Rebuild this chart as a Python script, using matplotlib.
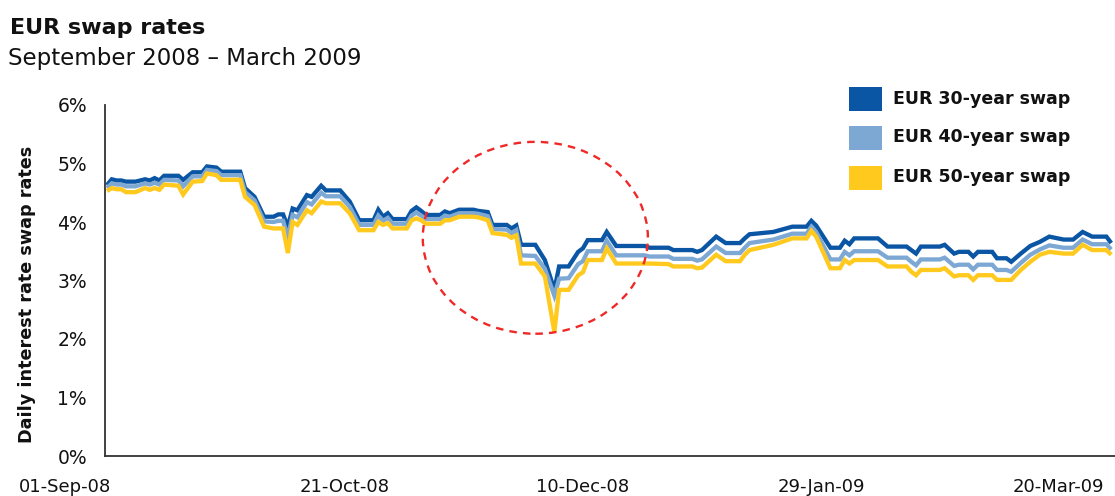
import matplotlib
matplotlib.use("Agg")
import matplotlib.pyplot as plt
import matplotlib.dates as mdates
from matplotlib.patches import Ellipse, Rectangle
from matplotlib.transforms import ScaledTranslation
import numpy as np

# ---------------- data ----------------
dates = [
    "2008-09-01", "2008-09-02", "2008-09-03", "2008-09-04", "2008-09-05", "2008-09-07",
    "2008-09-09", "2008-09-10", "2008-09-11", "2008-09-12", "2008-09-13", "2008-09-16",
    "2008-09-17", "2008-09-19", "2008-09-21", "2008-09-22", "2008-09-24", "2008-09-25",
    "2008-09-29", "2008-09-30", "2008-10-02", "2008-10-04", "2008-10-06", "2008-10-07",
    "2008-10-08", "2008-10-09", "2008-10-10", "2008-10-11", "2008-10-13", "2008-10-14",
    "2008-10-16", "2008-10-17", "2008-10-20", "2008-10-22", "2008-10-24", "2008-10-27",
    "2008-10-28", "2008-10-29", "2008-10-30", "2008-10-31", "2008-11-03", "2008-11-04",
    "2008-11-05", "2008-11-06", "2008-11-07", "2008-11-10", "2008-11-11", "2008-11-12",
    "2008-11-14", "2008-11-17", "2008-11-18", "2008-11-20", "2008-11-21", "2008-11-24",
    "2008-11-25", "2008-11-26", "2008-11-27", "2008-11-30", "2008-12-02", "2008-12-04",
    "2008-12-05", "2008-12-07", "2008-12-09", "2008-12-10", "2008-12-11", "2008-12-14",
    "2008-12-15", "2008-12-17", "2008-12-23", "2008-12-24", "2008-12-28", "2008-12-29",
    "2009-01-02", "2009-01-03", "2009-01-04", "2009-01-07", "2009-01-09", "2009-01-12",
    "2009-01-13", "2009-01-14", "2009-01-19", "2009-01-23", "2009-01-26", "2009-01-27",
    "2009-01-28", "2009-01-31", "2009-02-02", "2009-02-03", "2009-02-04", "2009-02-05",
    "2009-02-10", "2009-02-12", "2009-02-16", "2009-02-17", "2009-02-18", "2009-02-19",
    "2009-02-23", "2009-02-24", "2009-02-26", "2009-02-27", "2009-03-01", "2009-03-02",
    "2009-03-03", "2009-03-06", "2009-03-07", "2009-03-09", "2009-03-10", "2009-03-12",
    "2009-03-14", "2009-03-16", "2009-03-18", "2009-03-21", "2009-03-23", "2009-03-25",
    "2009-03-27", "2009-03-30", "2009-03-31",
]

swap_30y = [
    4.63, 4.73, 4.71, 4.71, 4.69, 4.69, 4.73, 4.71, 4.75, 4.71, 4.79, 4.79,
    4.72, 4.85, 4.85, 4.95, 4.93, 4.86, 4.86, 4.58, 4.43, 4.09, 4.09, 4.13,
    4.13, 3.92, 4.23, 4.20, 4.46, 4.43, 4.62, 4.54, 4.54, 4.35, 4.03, 4.03,
    4.21, 4.09, 4.15, 4.05, 4.05, 4.19, 4.25, 4.19, 4.12, 4.12, 4.18, 4.15,
    4.21, 4.21, 4.19, 4.17, 3.95, 3.95, 3.89, 3.94, 3.61, 3.61, 3.35, 2.84,
    3.24, 3.24, 3.49, 3.55, 3.69, 3.69, 3.83, 3.59, 3.59, 3.56, 3.56, 3.52,
    3.52, 3.49, 3.52, 3.75, 3.64, 3.64, 3.72, 3.79, 3.83, 3.92, 3.92, 4.02,
    3.94, 3.56, 3.56, 3.68, 3.62, 3.72, 3.72, 3.58, 3.58, 3.52, 3.46, 3.58,
    3.58, 3.61, 3.46, 3.49, 3.49, 3.41, 3.49, 3.49, 3.38, 3.38, 3.32, 3.46,
    3.59, 3.66, 3.75, 3.70, 3.70, 3.83, 3.75, 3.75, 3.64,
]

swap_40y = [
    4.58, 4.66, 4.64, 4.64, 4.61, 4.61, 4.66, 4.64, 4.67, 4.64, 4.72, 4.71,
    4.61, 4.78, 4.78, 4.89, 4.87, 4.80, 4.80, 4.51, 4.37, 4.01, 4.00, 4.02,
    4.02, 3.74, 4.12, 4.08, 4.34, 4.30, 4.50, 4.44, 4.44, 4.26, 3.95, 3.95,
    4.11, 4.02, 4.07, 3.97, 3.97, 4.11, 4.16, 4.11, 4.05, 4.05, 4.11, 4.09,
    4.15, 4.15, 4.14, 4.10, 3.88, 3.87, 3.81, 3.86, 3.43, 3.42, 3.20, 2.74,
    3.03, 3.04, 3.28, 3.33, 3.50, 3.50, 3.68, 3.43, 3.43, 3.41, 3.41, 3.37,
    3.37, 3.34, 3.36, 3.58, 3.47, 3.47, 3.56, 3.64, 3.70, 3.80, 3.80, 3.92,
    3.83, 3.36, 3.36, 3.49, 3.43, 3.50, 3.50, 3.39, 3.39, 3.32, 3.26, 3.36,
    3.36, 3.39, 3.25, 3.27, 3.27, 3.19, 3.27, 3.27, 3.18, 3.18, 3.15, 3.30,
    3.44, 3.53, 3.60, 3.56, 3.56, 3.70, 3.62, 3.62, 3.53,
]

swap_50y = [
    4.53, 4.58, 4.56, 4.56, 4.51, 4.51, 4.58, 4.55, 4.58, 4.55, 4.64, 4.62,
    4.47, 4.69, 4.70, 4.83, 4.80, 4.72, 4.72, 4.43, 4.29, 3.92, 3.89, 3.89,
    3.89, 3.47, 4.00, 3.95, 4.20, 4.15, 4.35, 4.32, 4.32, 4.15, 3.86, 3.86,
    4.00, 3.95, 3.98, 3.89, 3.89, 4.03, 4.06, 4.03, 3.97, 3.97, 4.03, 4.03,
    4.09, 4.09, 4.08, 4.03, 3.81, 3.78, 3.73, 3.77, 3.29, 3.29, 3.07, 2.12,
    2.84, 2.84, 3.09, 3.14, 3.35, 3.35, 3.55, 3.29, 3.29, 3.29, 3.28, 3.24,
    3.24, 3.21, 3.22, 3.44, 3.33, 3.33, 3.44, 3.52, 3.61, 3.72, 3.72, 3.85,
    3.75, 3.21, 3.21, 3.35, 3.29, 3.35, 3.35, 3.24, 3.24, 3.15, 3.09, 3.18,
    3.18, 3.21, 3.07, 3.09, 3.09, 3.01, 3.09, 3.09, 3.01, 3.01, 3.01, 3.18,
    3.32, 3.44, 3.49, 3.46, 3.46, 3.61, 3.52, 3.52, 3.44,
]

series_labels = ["EUR 30-year swap", "EUR 40-year swap", "EUR 50-year swap"]
series_colors = ["#0A56A5", "#7EA8D4", "#FFC91E"]

xtick_dates = ["2008-09-01", "2008-10-21", "2008-12-10", "2009-01-29", "2009-03-20"]
xtick_labels = ["01-Sep-08", "21-Oct-08", "10-Dec-08", "29-Jan-09", "20-Mar-09"]
ytick_values = [0, 1, 2, 3, 4, 5, 6]
ytick_labels = ["0%", "1%", "2%", "3%", "4%", "5%", "6%"]

title = "EUR swap rates"
subtitle = "September 2008 \u2013 March 2009"
ylabel = "Daily interest rate swap rates"

# highlight circle (centre date, centre value, width in days, height in %)
circle_center_date = "2008-11-30"
circle_center_value = 3.73
circle_width_days = 47.3
circle_height = 3.28

# ---------------- figure ----------------
W, H = 1115, 496
fig = plt.figure(figsize=(W / 100, H / 100), dpi=100)
plt.rcParams["font.family"] = ["DejaVu Sans"]


def fx(px):
    return px / W


def fy(py):
    return 1 - py / H


ax_left, ax_right, ax_top, ax_bottom = 105, 1115, 105, 456
ax = fig.add_axes([fx(ax_left), fy(ax_bottom), fx(ax_right - ax_left), (ax_bottom - ax_top) / H])

x = mdates.date2num(np.array(dates, dtype="datetime64[D]"))
for vals, col, lab, z in zip([swap_30y, swap_40y, swap_50y], series_colors, series_labels, [3, 4, 5]):
    ax.plot(x, vals, color=col, lw=3.1, solid_joinstyle="miter", solid_capstyle="butt", label=lab, zorder=z)

x0 = mdates.date2num(np.datetime64("2008-09-01"))
ax.set_xlim(x0 - 0.42, x0 + 211.8)
ax.set_ylim(0, 6)

xt = mdates.date2num(np.array(xtick_dates, dtype="datetime64[D]"))
ax.set_xticks(xt)
ax.set_xticklabels(xtick_labels, fontsize=13, color="#111111")
ax.set_yticks(ytick_values)
ax.set_yticklabels(ytick_labels, fontsize=13.5, color="#111111")
ax.tick_params(axis="both", length=0)
ax.tick_params(axis="x", pad=16)
ax.tick_params(axis="y", pad=13)

for s in ["top", "right"]:
    ax.spines[s].set_visible(False)
for s in ["left", "bottom"]:
    ax.spines[s].set_color("#333333")
    ax.spines[s].set_linewidth(1.3)

# shift the first date label to the left like the original
lbl0 = ax.get_xticklabels()[0]
lbl0.set_transform(lbl0.get_transform() + ScaledTranslation(-42 / 100, 0, fig.dpi_scale_trans))

# dashed highlight circle
cc = mdates.date2num(np.datetime64(circle_center_date))
ell = Ellipse((cc, circle_center_value), circle_width_days, circle_height, fill=False,
              edgecolor="#F02828", lw=1.7, linestyle=(0, (3.2, 2.6)), zorder=6, clip_on=False)
ax.add_patch(ell)

# titles
fig.text(fx(10), fy(34), title, fontsize=16, fontweight="bold", ha="left", va="baseline", color="#111111")
fig.text(fx(8), fy(65), subtitle, fontsize=16.5, ha="left", va="baseline", color="#111111")

# y label
fig.text(fx(27), fy(294), ylabel, rotation=90, fontsize=12.7, fontweight="bold",
         ha="center", va="center", color="#111111")

# legend (manual)
leg_rows = [99, 137.5, 177.5]
for yc, col, lab in zip(leg_rows, series_colors, series_labels):
    fig.patches.append(Rectangle((fx(849), fy(yc + 12)), fx(33), 24 / H, transform=fig.transFigure,
                                 facecolor=col, edgecolor="none"))
    fig.text(fx(893), fy(yc), lab, fontsize=12.5, fontweight="bold", ha="left", va="center",
             color="#111111")

fig.savefig("out.png", dpi=100)
